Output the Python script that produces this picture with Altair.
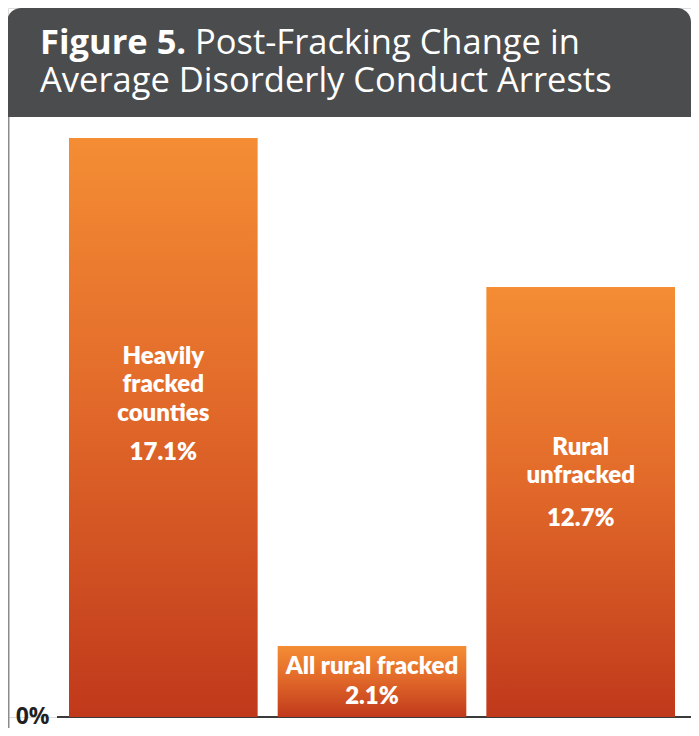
import altair as alt
import pandas as pd

# ---- data ----
categories = ["Heavily fracked counties", "All rural fracked", "Rural unfracked"]
label_lines = ["Heavily\nfracked\ncounties", "All rural fracked", "Rural\nunfracked"]
values = [17.1, 2.1, 12.7]
value_labels = ["17.1%", "2.1%", "12.7%"]

title_bold = "Figure 5."
title_line1 = "Post-Fracking Change in"
title_line2 = "Average Disorderly Conduct Arrests"

df = pd.DataFrame({
    "category": categories,
    "label": label_lines,
    "value": values,
    "pct": value_labels,
})

W, H = 683, 709
BAR_FONT = "Lato"
TITLE_FONT = "Open Sans"

grad = alt.Gradient(
    gradient="linear",
    stops=[alt.GradientStop(color="#f48d34", offset=0),
           alt.GradientStop(color="#e26a2a", offset=0.45),
           alt.GradientStop(color="#c0391b", offset=1)],
    x1=0, x2=0, y1=0, y2=1,
)

x_enc = alt.X("category:N", sort=categories, axis=None,
              scale=alt.Scale(range=[61, 667], paddingInner=0.096, paddingOuter=0))
y_scale = alt.Scale(domain=[0, 20.94], nice=False, zero=True)

one = alt.Data(values=[{"k": 1}])

# frame: left border line
frame = alt.Chart(one).mark_rule(color="#8c8c8c", strokeWidth=1.5).encode(
    x=alt.value(0.75), y=alt.value(100), y2=alt.value(730)
)

# title bar
title_bar = alt.Chart(one).mark_rect(
    color="#4b4c4e", cornerRadiusTopLeft=14, cornerRadiusTopRight=14
).encode(x=alt.value(-1), x2=alt.value(683), y=alt.value(0), y2=alt.value(109))

t1 = alt.Chart(one).mark_text(
    text=title_bold, font=TITLE_FONT, fontWeight="bold", fontSize=34.5,
    color="white", align="left", baseline="alphabetic"
).encode(x=alt.value(32), y=alt.value(46))
t2 = alt.Chart(one).mark_text(
    text=title_line1, font=TITLE_FONT, fontWeight="normal", fontSize=34.5,
    color="white", align="left", baseline="alphabetic"
).encode(x=alt.value(187), y=alt.value(46))
t3 = alt.Chart(one).mark_text(
    text=title_line2, font=TITLE_FONT, fontWeight="normal", fontSize=34.5,
    color="white", align="left", baseline="alphabetic"
).encode(x=alt.value(32), y=alt.value(84))

base = alt.Chart(df).transform_calculate(
    name_y="datum.value * 0.61",
    pct_y="datum.value > 5 ? datum.value * 0.444 : datum.value * 0.18",
)

baseline_rule = base.mark_rule(color="#3a3a3a", strokeWidth=2).encode(
    y=alt.datum(0, scale=y_scale), x=alt.value(49), x2=alt.value(683)
)

bars = base.mark_bar(color=grad).encode(
    x=x_enc,
    y=alt.Y("value:Q", scale=y_scale,
            axis=alt.Axis(values=[0], labelExpr="'0%'", ticks=False, domain=False,
                          grid=False, offset=-49, labelPadding=8, title=None,
                          labelBaseline="alphabetic", labelOffset=6,
                          labelFont="Open Sans", labelFontWeight="bold",
                          labelFontSize=23, labelColor="#231f20")),
)

names = base.mark_text(
    font=BAR_FONT, fontWeight=800, fontSize=24, color="white",
    lineBreak="\n", lineHeight=28.5, align="center", baseline="alphabetic"
).encode(x=x_enc, y=alt.Y("name_y:Q", scale=y_scale), text="label:N")

pcts = base.mark_text(
    font=BAR_FONT, fontWeight=800, fontSize=24, color="white",
    align="center", baseline="alphabetic"
).encode(x=x_enc, y=alt.Y("pct_y:Q", scale=y_scale), text="pct:N")

chart = alt.layer(
    frame, title_bar, t1, t2, t3, baseline_rule, bars, names, pcts
).properties(
    width=W, height=H,
    autosize=alt.AutoSizeParams(type="none"),
    padding={"left": 0, "top": 0, "right": 0, "bottom": 11},
).configure_view(stroke=None).configure(background="white")

chart.save("out.html", embed_options={"renderer": "svg", "actions": False})
